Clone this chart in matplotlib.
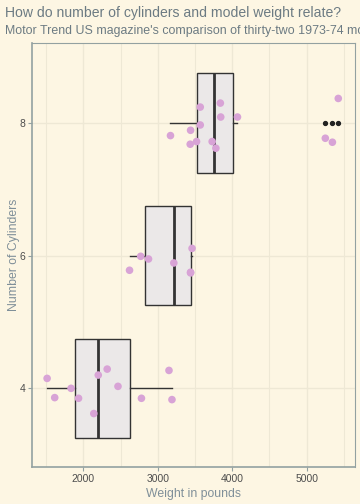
import matplotlib
matplotlib.use('Agg')
import matplotlib.pyplot as plt
import numpy as np

plt.rcParams['font.family'] = ['Liberation Sans', 'DejaVu Sans']

# mtcars weight (lbs) by cylinder count, with the jittered y
wt_4 = [1513, 1615, 1835, 1935, 2140, 2200, 2320, 2465, 2780, 3150, 3190]
jit_4 = [4.15, 3.86, 4.00, 3.85, 3.62, 4.20, 4.29, 4.03, 3.85, 4.27, 3.83]
wt_6 = [2620, 2770, 2875, 3215, 3440, 3440, 3460]
jit_6 = [5.78, 5.99, 5.95, 5.89, 5.75, 5.74, 6.11]
wt_8 = [3170, 3435, 3440, 3520, 3570, 3570, 3730, 3780, 3840, 3845, 4070,
        5250, 5345, 5424]
jit_8 = [7.81, 7.68, 7.89, 7.72, 8.24, 7.97, 7.72, 7.62, 8.30, 8.09, 8.09,
         7.77, 7.71, 8.37]
cyls = [4, 6, 8]

bg = '#fdf6e3'
grid = '#eee8d5'
edge = '#93a1a1'

fig = plt.figure(figsize=(3.6, 5.04), dpi=100, facecolor=bg)
ax = fig.add_axes([0.0889, 0.0734, 0.8975, 0.8413], facecolor=bg)

ax.boxplot([wt_4, wt_6, wt_8], positions=cyls, widths=1.5, vert=False,
           patch_artist=True, manage_ticks=False,
           boxprops=dict(facecolor='#ebe8e8', edgecolor='#333333', linewidth=1.0),
           medianprops=dict(color='#333333', linewidth=2.0),
           whiskerprops=dict(color='#333333', linewidth=1.0),
           capprops=dict(linewidth=0),
           flierprops=dict(marker='o', markersize=2.8, markerfacecolor='#222222',
                           markeredgecolor='#222222'),
           zorder=2)

for w, j in [(wt_4, jit_4), (wt_6, jit_6), (wt_8, jit_8)]:
    ax.scatter(w, j, s=30, color='#d8a3d6', edgecolors='none', zorder=3)

ax.set_xlim(1310, 5650)
ax.set_ylim(2.814, 9.206)
ax.set_xticks([2000, 3000, 4000, 5000])
ax.set_xticks([1500, 2500, 3500, 4500, 5500], minor=True)
ax.set_yticks(cyls)
ax.grid(True, which='major', color=grid, linewidth=1.0, zorder=0)
ax.grid(True, which='minor', axis='x', color=grid, linewidth=0.8, zorder=0)
ax.set_axisbelow(True)

for s in ax.spines.values():
    s.set_color(edge)
    s.set_linewidth(0.8)
ax.spines['left'].set_linewidth(1.2)
ax.spines['bottom'].set_linewidth(1.2)

ax.tick_params(which='major', length=3, color=edge, labelcolor='#4d4d4d',
               labelsize=7.5, pad=2)
ax.tick_params(which='minor', length=0)

ax.set_xlabel('Weight in pounds', color='#7f8f99', fontsize=8.8, labelpad=3)
ax.set_ylabel('Number of Cylinders', color='#7f8f99', fontsize=8.8)
ax.yaxis.set_label_coords(-12 / 323, 0.5)

fig.text(5 / 360, 1 - 17 / 504, 'How do number of cylinders and model weight relate?',
         color='#6c7b83', fontsize=10.1, ha='left', va='baseline')
# the reference subtitle runs off the right edge too
fig.text(5 / 360, 1 - 34 / 504,
         "Motor Trend US magazine's comparison of thirty-two 1973-74 models",
         color='#6c7b83', fontsize=8.9, ha='left', va='baseline')

fig.savefig('out.png', dpi=100, facecolor=bg)
